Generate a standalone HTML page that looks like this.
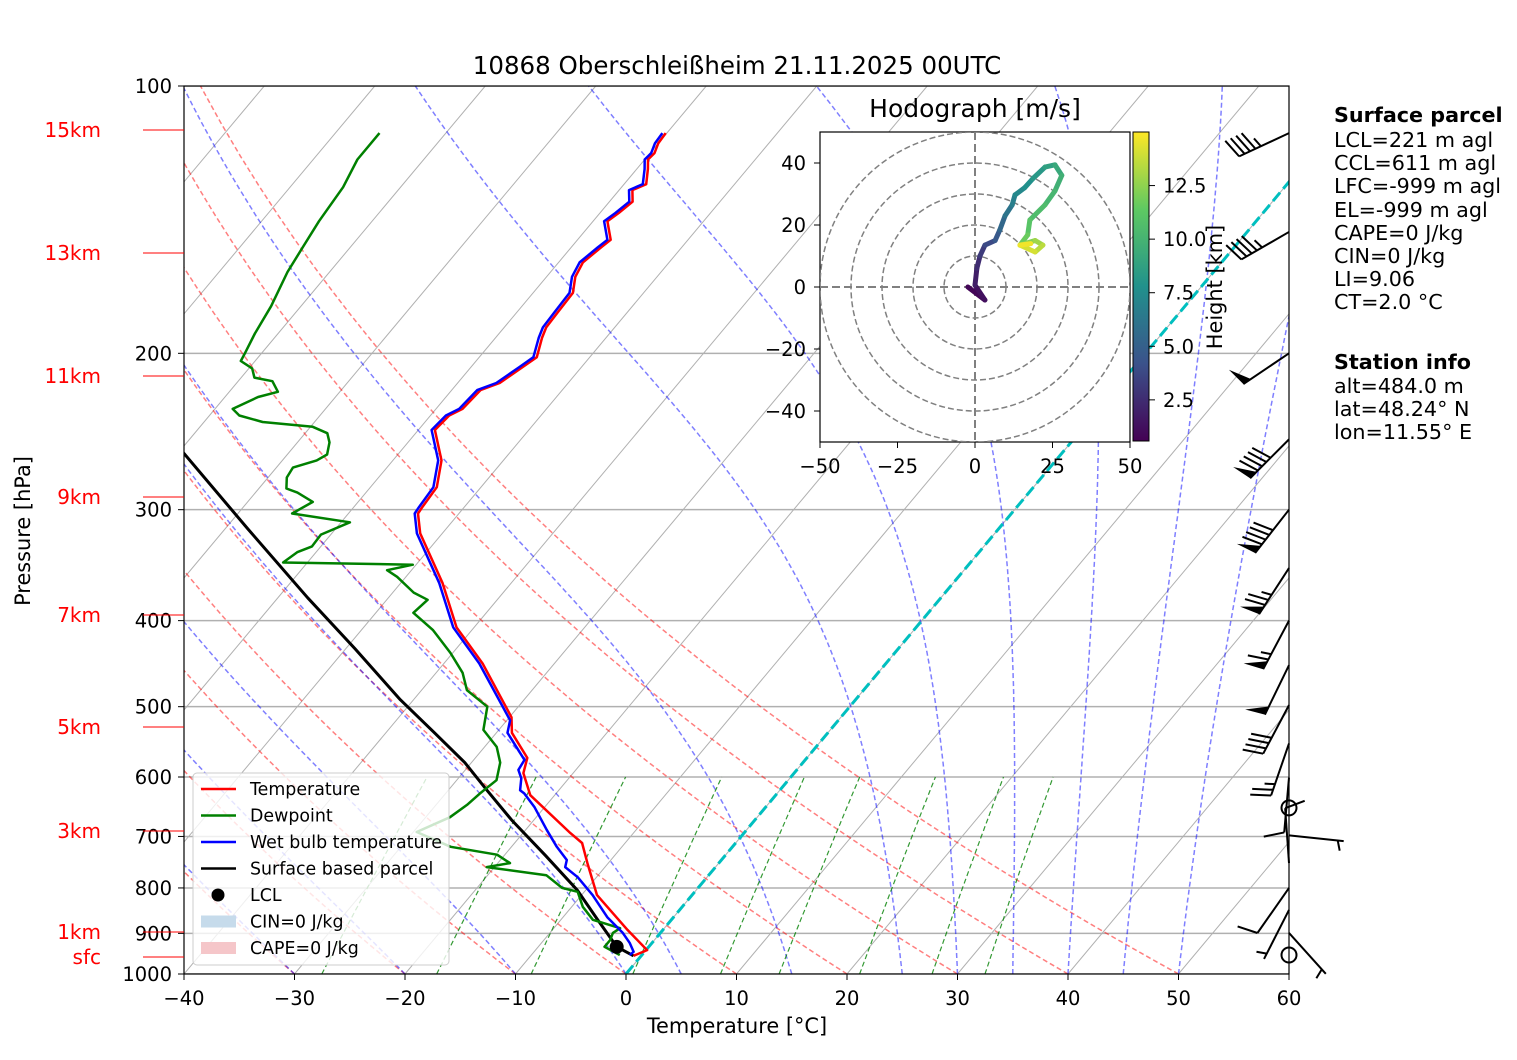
<!DOCTYPE html>
<html><head><meta charset="utf-8"><style>
body{margin:0;background:#fff}
svg{display:block;font-family:"DejaVu Sans","Liberation Sans",sans-serif}
</style></head><body>
<svg id="chart" width="1517" height="1060" viewBox="0 0 1517 1060" xmlns="http://www.w3.org/2000/svg">
<defs>
<clipPath id="plotclip"><rect x="184" y="86" width="1105" height="888"/></clipPath>
<clipPath id="hodoclip"><rect x="820" y="132" width="310" height="310"/></clipPath>
<linearGradient id="viridis" x1="0" y1="1" x2="0" y2="0">
<stop offset="0" stop-color="#440154"/><stop offset="0.25" stop-color="#3b528b"/><stop offset="0.5" stop-color="#21918c"/><stop offset="0.75" stop-color="#5ec962"/><stop offset="1" stop-color="#fde725"/>
</linearGradient>
</defs>
<rect x="0" y="0" width="1517" height="1060" fill="#fff"/>
<text x="737" y="74" font-size="24.5" text-anchor="middle">10868 Oberschleißheim 21.11.2025 00UTC</text>
<g id="bg" clip-path="url(#plotclip)"></g>
<g id="series" clip-path="url(#plotclip)"></g>
<rect x="184" y="86" width="1105" height="888" fill="none" stroke="#000" stroke-width="1.2"/>
<g id="axes"></g>
<g id="barbs"></g>
<g id="legend"></g>
<g id="hodo"></g>
<g font-size="20.7">
<text x="1334" y="122" font-weight="bold">Surface parcel</text>
<text x="1334" y="147">LCL=221 m agl</text>
<text x="1334" y="170">CCL=611 m agl</text>
<text x="1334" y="193">LFC=-999 m agl</text>
<text x="1334" y="217">EL=-999 m agl</text>
<text x="1334" y="240">CAPE=0 J/kg</text>
<text x="1334" y="263">CIN=0 J/kg</text>
<text x="1334" y="286">LI=9.06</text>
<text x="1334" y="309">CT=2.0 °C</text>
<text x="1334" y="369" font-weight="bold">Station info</text>
<text x="1334" y="393">alt=484.0 m</text>
<text x="1334" y="416">lat=48.24° N</text>
<text x="1334" y="439">lon=11.55° E</text>
</g>
</svg>
<script>
// ---- data ----
const tempP=[954,940,892,815,750,712,694,629,594,571,535,514,447,407,363,319,303,298,283,264,244,235,231,220,216,207,202,192,187,180,171,164,158,152,149,142,139,135,131,129,124,121,119,116,113];
const tempT=[-0.7,0.1,-3.2,-8.6,-11.9,-13.9,-15.7,-22.2,-24.5,-25.3,-28.6,-29.8,-36.5,-41.6,-46.2,-52.0,-53.7,-53.8,-54.0,-55.6,-58.5,-58.3,-57.6,-57.4,-56.2,-55.3,-54.8,-55.8,-56.2,-56.3,-56.4,-57.4,-57.8,-57.3,-57.0,-58.7,-58.3,-57.9,-58.8,-58.0,-59.0,-59.7,-59.6,-60.0,-60.1];
const wbP=[952,944,923,899,863,815,778,758,744,719,688,649,626,621,602,589,574,535,518,447,407,363,319,303,298,283,264,244,235,231,220,216,207,202,192,187,180,171,164,158,152,149,142,139,135,131,129,124,121,119,116,113];
const wbT=[-1.1,-1.0,-2.0,-3.4,-6.0,-9.0,-11.7,-13.6,-14.0,-15.9,-18.1,-20.9,-22.9,-23.5,-24.3,-25.2,-25.4,-29.0,-29.7,-36.8,-41.9,-46.5,-52.3,-54.0,-54.1,-54.3,-55.9,-58.8,-58.6,-57.9,-57.7,-56.5,-55.6,-55.1,-56.1,-56.5,-56.6,-56.7,-57.7,-58.1,-57.6,-57.3,-59.0,-58.6,-58.2,-59.1,-58.3,-59.3,-60.0,-59.9,-60.3,-60.4];
const dewP=[952,932,916,899,888,869,840,808,800,774,758,750,734,719,692,666,645,626,605,578,555,531,500,479,458,435,410,392,379,372,357,351,346,344,335,330,320,310,303,294,287,284,276,269,264,260,252,246,242,239,235,231,224,221,215,213,208,204,200,190,177,162,152,142,130,121,113];
const dewT=[-2.0,-4.0,-4.0,-4.3,-4.0,-7.1,-9.0,-10.6,-12.3,-14.7,-20.7,-18.9,-20.7,-25.5,-29.7,-27.8,-27.2,-26.9,-26.4,-27.4,-28.9,-31.4,-32.8,-35.9,-37.6,-40.2,-43.5,-46.6,-46.3,-48.1,-50.8,-52.2,-50.3,-62.2,-61.7,-60.8,-60.9,-59.2,-65.1,-64.1,-66.2,-67.5,-68.3,-68.5,-66.9,-66.4,-67.1,-68.0,-69.8,-74.7,-77.3,-78.4,-77.0,-75.6,-76.9,-78.8,-79.7,-81.3,-81.5,-82.1,-82.7,-83.8,-84.3,-84.8,-85.2,-86.0,-86.0];
const parcelP=[954,932,870,804,735,671,620,578,535,491,430,377,315,259,220];
const parcelT=[-0.7,-2.9,-6.6,-10.8,-16.3,-22.0,-26.6,-30.6,-35.6,-41.2,-49.2,-57.3,-68.0,-79.5,-88.0];
const lclP=[932];
const lclT=[-2.9];
const windP=[113,146,200,250,300,349,400,449,498,550,601,698,750,800,847,899];
const windDir=[245,240,236,225,218,213,208,206,208,199,185,96,356,215,207,138];
const windSpd=[45,45,50,90,90,75,65,50,40,25,10,5,10,10,5,5];
const calmP=[650,952];
const hodoU=[-2.3,3.2,0,0.6,1.6,3.2,6.5,8,9.7,12,12.9,16,18.7,22.6,25.8,28,25.8,22.6,17.7,17,14.5,19.4,21.9,19.4,14.5,18];
const hodoV=[0,-4.2,0.6,6,10,13.5,15,18.4,23,26.5,29.7,32,35,38.7,39.4,36,31,26.5,21.6,16.8,13.5,15,13.5,11.3,13.5,14];
const hodoH=[0.6,1.0,1.5,2.2,2.8,3.5,4.2,5,5.8,6.5,7,7.5,8,8.5,9,9.5,10,10.3,10.8,11.3,12,12.6,13.2,13.8,14.4,15];
const pTicks=[100,200,300,400,500,600,700,800,900,1000];
const tTicks=[-40,-30,-20,-10,0,10,20,30,40,50,60];
const heightLabels=["15km","13km","11km","9km","7km","5km","3km","1km","sfc"];
const heightY=[130,253,376,497,615,727,831,932,957];
const mixRatios=[0.0004,0.001,0.002,0.004,0.007,0.01,0.016,0.024,0.032];
const dryTheta=[-30,-20,-10,0,10,20,30,40,50];
const moistT0=[-50,-40,-30,-20,-10,0,5,15,25,30,35,40,45,50];
const hodoTicks=[-50,-25,0,25,50];
const hodoYTicks=[-40,-20,0,20,40];
const cbTicks=[2.5,5.0,7.5,10.0,12.5];

// ---- scales ----
const NS='http://www.w3.org/2000/svg';
const X0=184,Y0=974,DX=11.05,DEC=888,SK=0.837;
function yP(p){return Y0-DEC*Math.log10(1000/p);}
function xT(t,p){return X0+(t+40)*DX+(Y0-yP(p))*SK;}
function mk(tag,attrs,parent){const e=document.createElementNS(NS,tag);for(const k in attrs)e.setAttribute(k,attrs[k]);parent.appendChild(e);return e;}
function pathOf(ps,ts){let d='';for(let i=0;i<ps.length;i++){d+=(i?'L':'M')+xT(ts[i],ps[i]).toFixed(1)+','+yP(ps[i]).toFixed(1);}return d;}
const bg=document.getElementById('bg'),series=document.getElementById('series'),axes=document.getElementById('axes');

pTicks.forEach(p=>{const l=mk('line',{x1:184,x2:1289,y1:yP(p),y2:yP(p),stroke:'#b0b0b0','stroke-width':1.5},bg);

});
for(let t=-120;t<=60;t+=10){const l=mk('line',{x1:xT(t,1000),y1:yP(1000),x2:xT(t,100),y2:yP(100),stroke:'#b0b0b0','stroke-width':1},bg);

}
const pr=[];for(let p=1000;p>=100;p-=10)pr.push(p);
dryTheta.forEach(th=>{const ts=pr.map(p=>(th+273.15)*Math.pow(p/1000,0.2857)-273.15);
const e=mk('path',{d:pathOf(pr,ts),fill:'none',stroke:'#ff0000','stroke-opacity':0.5,'stroke-width':1.5,'stroke-dasharray':'5,3'},bg);

});
function es(T){return 6.112*Math.exp(17.67*(T-273.15)/(T-29.65));}
moistT0.forEach(t0=>{let T=t0+273.15;const ps=[],ts=[];for(let p=1000;p>=100;p-=5){ps.push(p);ts.push(T-273.15);
const e=es(T),rs=0.622*e/(p-e);const g=(287*T+2.501e6*rs)/(1005+2.501e6*2.501e6*rs*0.622/(287*T*T))/p;T-=g*5;}
const e=mk('path',{d:pathOf(ps,ts),fill:'none',stroke:'#0000ff','stroke-opacity':0.5,'stroke-width':1.5,'stroke-dasharray':'5,3'},bg);

});
mixRatios.forEach(w=>{const ps=[],ts=[];for(let p=1000;p>=600;p-=10){const e=p*w/(0.622+w);const l=Math.log(e/6.112);ps.push(p);ts.push(243.5*l/(17.67-l));}
const e=mk('path',{d:pathOf(ps,ts),fill:'none',stroke:'#008000','stroke-opacity':0.8,'stroke-width':1.2,'stroke-dasharray':'5,3'},bg);

});
const zl=mk('line',{x1:xT(0,1000),y1:yP(1000),x2:xT(0,100),y2:yP(100),stroke:'#00bfbf','stroke-width':3,'stroke-dasharray':'11,5'},bg);



const parc=mk('path',{d:pathOf(parcelP,parcelT),fill:'none',stroke:'#000','stroke-width':3,'stroke-linejoin':'round'},series);


const dew=mk('path',{d:pathOf(dewP,dewT),fill:'none',stroke:'#008000','stroke-width':2.5,'stroke-linejoin':'round'},series);


const tmp=mk('path',{d:pathOf(tempP,tempT),fill:'none',stroke:'#ff0000','stroke-width':2.5,'stroke-linejoin':'round'},series);


const wb=mk('path',{d:pathOf(wbP,wbT),fill:'none',stroke:'#0000ff','stroke-width':2.5,'stroke-linejoin':'round'},series);


const lc=mk('circle',{cx:xT(lclT[0],lclP[0]),cy:yP(lclP[0]),r:7,fill:'#000'},series);



pTicks.forEach(p=>{const y=yP(p);mk('line',{x1:178,x2:184,y1:y,y2:y,stroke:'#000'},axes);
const t=mk('text',{x:172,y:y+7,'font-size':19.5,'text-anchor':'end'},axes);t.textContent=p;

});
tTicks.forEach(tv=>{const x=X0+(tv+40)*DX;mk('line',{x1:x,x2:x,y1:974,y2:980,stroke:'#000'},axes);
const t=mk('text',{x:x,y:1005,'font-size':19.5,'text-anchor':'middle'},axes);t.textContent=tv<0?'\u2212'+(-tv):tv;

});
const xl=mk('text',{x:737,y:1033,'font-size':20.9,'text-anchor':'middle'},axes);xl.textContent='Temperature [°C]';


const yl=mk('text',{x:30,y:531,'font-size':20.9,'text-anchor':'middle',transform:'rotate(-90 30 531)'},axes);yl.textContent='Pressure [hPa]';


heightLabels.forEach((s,i)=>{const y=heightY[i];mk('line',{x1:143,x2:184,y1:y,y2:y,stroke:'#ff0000','stroke-width':1},axes);
const t=mk('text',{x:101,y:y+7,'font-size':20,'text-anchor':'end',fill:'#ff0000'},axes);t.textContent=s;

});

// wind barbs
const bG=document.getElementById('barbs');
windP.forEach((p,i)=>{const bx=1289,by=yP(p),L=55,a=windDir[i]*Math.PI/180;
const sx=Math.sin(a),sy=-Math.cos(a);const tx=bx+L*sx,ty=by+L*sy;
const g=mk('g',{},bG);


mk('line',{x1:bx,y1:by,x2:tx,y2:ty,stroke:'#000','stroke-width':2},g);
const px=-sy,py=sx;
let spd=windSpd[i],pos=0;const bl=20;
while(spd>=50){const ax=tx-sx*pos,ay=ty-sy*pos,cx=tx-sx*(pos+9),cy=ty-sy*(pos+9);
mk('polygon',{points:`${ax},${ay} ${ax+px*bl+sx*4},${ay+py*bl+sy*4} ${cx},${cy}`,fill:'#000'},g);pos+=11;spd-=50;}
while(spd>=10){const ax=tx-sx*pos,ay=ty-sy*pos;mk('line',{x1:ax,y1:ay,x2:ax+px*bl+sx*6,y2:ay+py*bl+sy*6,stroke:'#000','stroke-width':2},g);pos+=6;spd-=10;}
if(spd>=5){if(pos===0)pos=6;const ax=tx-sx*pos,ay=ty-sy*pos;mk('line',{x1:ax,y1:ay,x2:ax+px*bl/2+sx*3,y2:ay+py*bl/2+sy*3,stroke:'#000','stroke-width':2},g);}
});
calmP.forEach(p=>{const c=mk('circle',{cx:1289,cy:yP(p),r:7.5,fill:'none',stroke:'#000','stroke-width':2},bG);

});

// legend
const lg=document.getElementById('legend');
mk('rect',{x:193,y:773,width:256,height:192,rx:4,fill:'#fff','fill-opacity':0.8,stroke:'#cccccc'},lg);
const legItems=[['Temperature','line','#ff0000'],['Dewpoint','line','#008000'],['Wet bulb temperature','line','#0000ff'],['Surface based parcel','line','#000'],['LCL','dot','#000'],['CIN=0 J/kg','patch','#c6dbeb'],['CAPE=0 J/kg','patch','#f5c6c9']];
legItems.forEach((it,i)=>{const y=789+i*26.5;const g=mk('g',{},lg);


if(it[1]==='line')mk('line',{x1:201,x2:236,y1:y,y2:y,stroke:it[2],'stroke-width':2.5},g);
else if(it[1]==='dot')mk('circle',{cx:218,cy:y,r:6.5,fill:it[2]},g);
else mk('rect',{x:201,y:y-6,width:35,height:12,fill:it[2]},g);
const t=mk('text',{x:250,y:y+6,'font-size':17.4},g);t.textContent=it[0];});

// hodograph
const hg=document.getElementById('hodo');
const HX0=975,HY0=287,HS=3.1;
function hx(u){return HX0+u*HS;}function hy(v){return HY0-v*HS;}
mk('rect',{x:820,y:132,width:310,height:310,fill:'#fff',stroke:'#000','stroke-width':1.2},hg);
const hc=mk('g',{'clip-path':'url(#hodoclip)'},hg);
[10,20,30,40,50].forEach(r=>{const c=mk('circle',{cx:HX0,cy:HY0,r:r*HS,fill:'none',stroke:'#808080','stroke-width':1.5,'stroke-dasharray':'6,3'},hc);

});
mk('line',{x1:820,x2:1130,y1:HY0,y2:HY0,stroke:'#808080','stroke-width':2,'stroke-dasharray':'8,4'},hc);
mk('line',{x1:HX0,x2:HX0,y1:132,y2:442,stroke:'#808080','stroke-width':2,'stroke-dasharray':'8,4'},hc);
const vir=['#440154','#3b528b','#21918c','#5ec962','#fde725'];
function lerpC(a,b,f){const pa=[1,3,5].map(i=>parseInt(a.substr(i,2),16)),pb=[1,3,5].map(i=>parseInt(b.substr(i,2),16));return 'rgb('+pa.map((v,i)=>Math.round(v+(pb[i]-v)*f)).join(',')+')';}
function cmap(h){let f=(h-0.58)/(15-0.58);f=Math.max(0,Math.min(1,f))*4;const i=Math.min(3,Math.floor(f));return lerpC(vir[i],vir[i+1],f-i);}
for(let i=0;i<hodoU.length-1;i++){const s=mk('line',{x1:hx(hodoU[i]),y1:hy(hodoV[i]),x2:hx(hodoU[i+1]),y2:hy(hodoV[i+1]),stroke:cmap((hodoH[i]+hodoH[i+1])/2),'stroke-width':5,'stroke-linecap':'round'},hc);

}
const ht=mk('text',{x:975,y:117,'font-size':25,'text-anchor':'middle'},hg);ht.textContent='Hodograph [m/s]';


hodoTicks.forEach(v=>{mk('line',{x1:hx(v),x2:hx(v),y1:442,y2:448,stroke:'#000'},hg);
const t=mk('text',{x:hx(v),y:473,'font-size':19.5,'text-anchor':'middle'},hg);t.textContent=v<0?'\u2212'+(-v):v;

});
hodoYTicks.forEach(v=>{mk('line',{x1:814,x2:820,y1:hy(v),y2:hy(v),stroke:'#000'},hg);
const t=mk('text',{x:806,y:hy(v)+7,'font-size':19.5,'text-anchor':'end'},hg);t.textContent=v<0?'\u2212'+(-v):v;

});
const cb=mk('rect',{x:1133,y:132,width:16,height:309,fill:'url(#viridis)',stroke:'#000','stroke-width':1},hg);


cbTicks.forEach(v=>{const y=441-(v-0.58)/(15-0.58)*309;mk('line',{x1:1149,x2:1155,y1:y,y2:y,stroke:'#000'},hg);
const t=mk('text',{x:1163,y:y+7,'font-size':19.5},hg);t.textContent=v.toFixed(1);

});
const cbl=mk('text',{x:1222,y:287,'font-size':20.9,'text-anchor':'middle',transform:'rotate(-90 1222 287)'},hg);cbl.textContent='Height [km]';


</script>
</body></html>
